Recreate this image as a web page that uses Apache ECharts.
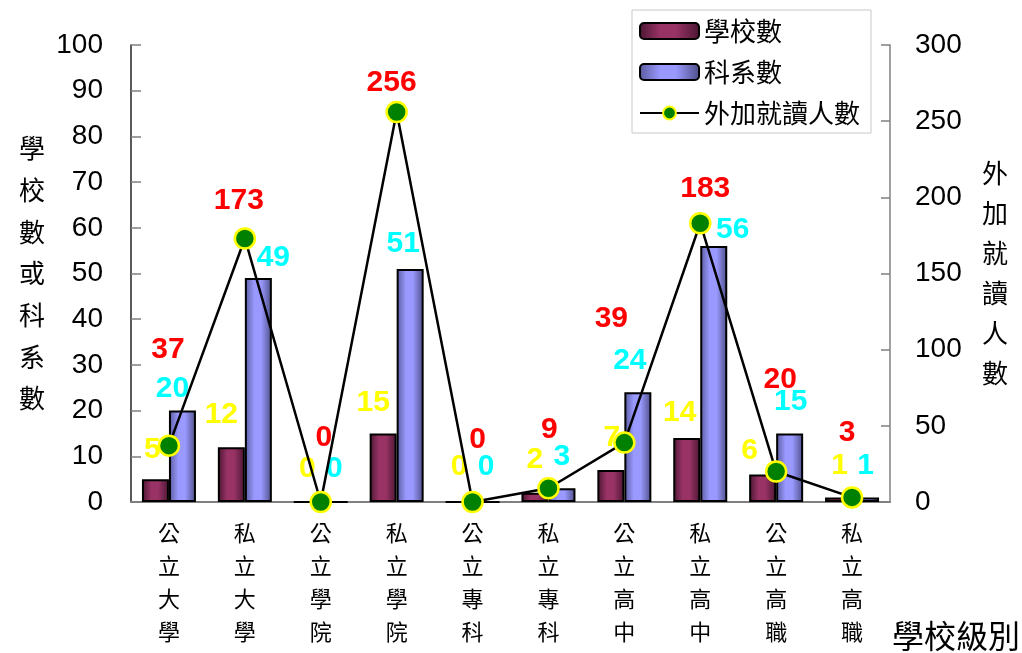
<!DOCTYPE html>
<html>
<head>
<meta charset="utf-8">
<script src="https://cdn.jsdelivr.net/npm/echarts@6/dist/echarts.min.js"></script>
<style>
html,body{margin:0;padding:0;background:#fff;}
#chart{width:1022px;height:653px;}
</style>
</head>
<body>
<div id="chart"></div>
<script>
// ---- data ----
const categories = ['公立大學','私立大學','公立學院','私立學院','公立專科','私立專科','公立高中','私立高中','公立高職','私立高職'];
const schoolCounts = [5, 12, 0, 15, 0, 2, 7, 14, 6, 1];
const deptCounts = [20, 49, 0, 51, 0, 3, 24, 56, 15, 1];
const extraStudents = [37, 173, 0, 256, 0, 9, 39, 183, 20, 3];
const leftTicks = {min: 0, max: 100, interval: 10};
const rightTicks = {min: 0, max: 300, interval: 50};
const seriesNames = ['學校數', '科系數', '外加就讀人數'];
const leftAxisName = '學校數或科系數';
const rightAxisName = '外加就讀人數';
const xAxisName = '學校級別';

// ---- label placement (style only) ----
const schoolLabelOffsets = [[-3,-29],[-10,-32],[0,-32],[-10,-31],[0,-34],[0,-33],[1,-32],[-7,-25],[-13,-24],[1,-32]];
const deptLabelOffsets = [[-10,-22],[15,-20],[0,-32],[-7,-25],[0,-34],[0,-32],[-8,-32],[19,-16],[1,-32],[0,-32]];
const extraLabelOffsets = [[-1,-85],[-6,-26],[3,-53],[-5,-18],[5,-51],[1,-47],[-13,-113],[5,-23],[4,-81],[-5,-53]];

const latin = "'Liberation Sans', Arial, 'Noto Sans CJK TC', sans-serif";
const cjk = "'Noto Sans CJK TC', 'Liberation Sans', sans-serif";

function vertical(s){ return s.split('').join('\n'); }

const valueLabel = (color) => ({
  show: true, position: 'top', distance: 0, verticalAlign: 'middle', align: 'center',
  color: color, fontSize: 30, fontWeight: 'bold', fontFamily: latin
});

const grad = (c0, c1, c2, c3) => new echarts.graphic.LinearGradient(0, 0, 1, 0, [
  {offset: 0, color: c0}, {offset: 0.35, color: c1}, {offset: 0.6, color: c2}, {offset: 1, color: c3}
]);

const chart = echarts.init(document.getElementById('chart'), null, {renderer: 'canvas'});
chart.setOption({
  animation: false,
  backgroundColor: '#ffffff',
  textStyle: {fontFamily: latin},
  title: {
    text: xAxisName, left: 892, top: 620, padding: 0,
    textStyle: {fontSize: 32, fontWeight: 'normal', fontFamily: cjk, color: '#000'}
  },
  legend: {
    orient: 'vertical', left: 632, top: 10,
    padding: [8, 11, 7, 7], itemGap: 15, itemWidth: 59, itemHeight: 16,
    borderColor: '#c8c8c8', borderWidth: 1, backgroundColor: '#fff',
    textStyle: {fontSize: 26, fontFamily: cjk, color: '#000'},
    data: seriesNames
  },
  grid: {left: 131, right: 132, top: 45, bottom: 151, containLabel: false, outerBoundsMode: 'none'},
  xAxis: {
    type: 'category', data: categories,
    axisLine: {lineStyle: {color: '#808080', width: 2}},
    axisTick: {inside: true, length: 7, lineStyle: {color: '#808080', width: 1.5}},
    axisLabel: {
      interval: 0, margin: 14, fontSize: 22, lineHeight: 33, fontFamily: cjk, color: '#000',
      formatter: (v) => vertical(v)
    }
  },
  yAxis: [
    {
      type: 'value', min: leftTicks.min, max: leftTicks.max, interval: leftTicks.interval,
      position: 'left',
      axisLine: {show: true, lineStyle: {color: '#222', width: 1.5}},
      axisTick: {show: true, inside: true, length: 10, lineStyle: {color: '#808080', width: 1.5}},
      axisLabel: {margin: 28, fontSize: 28, color: '#000', fontFamily: latin},
      splitLine: {show: false},
      name: vertical(leftAxisName), nameLocation: 'middle', nameRotate: 0, nameGap: 86,
      nameTextStyle: {fontSize: 26, lineHeight: 41.7, fontFamily: cjk, color: '#000'}
    },
    {
      type: 'value', min: rightTicks.min, max: rightTicks.max, interval: rightTicks.interval,
      position: 'right',
      axisLine: {show: true, lineStyle: {color: '#808080', width: 1.5}},
      axisTick: {show: true, inside: true, length: 9, lineStyle: {color: '#808080', width: 1.5}},
      axisLabel: {margin: 25, fontSize: 28, color: '#000', fontFamily: latin},
      splitLine: {show: false},
      name: vertical(rightAxisName), nameLocation: 'middle', nameRotate: 0, nameGap: 92,
      nameTextStyle: {fontSize: 26, lineHeight: 40, fontFamily: cjk, color: '#000'}
    }
  ],
  series: [
    {
      name: seriesNames[0], type: 'bar', yAxisIndex: 0, barWidth: 27, barGap: '0%',
      itemStyle: {color: grad('#4a1631', '#993366', '#993366', '#4a1631'), borderColor: '#000', borderWidth: 2},
      label: valueLabel('#ffff00'),
      data: schoolCounts.map((v, i) => ({value: v, label: {offset: schoolLabelOffsets[i]}}))
    },
    {
      name: seriesNames[1], type: 'bar', yAxisIndex: 0, barWidth: 27, barGap: '0%',
      itemStyle: {color: grad('#5a5a9c', '#9999ff', '#9999ff', '#4d4d85'), borderColor: '#000', borderWidth: 2},
      label: valueLabel('#00ffff'),
      data: deptCounts.map((v, i) => ({value: v, label: {offset: deptLabelOffsets[i]}}))
    },
    {
      name: seriesNames[2], type: 'line', yAxisIndex: 1,
      symbol: 'circle', symbolSize: 20,
      lineStyle: {color: '#000', width: 2.5},
      itemStyle: {color: '#008000', borderColor: '#ffff00', borderWidth: 2.5},
      label: valueLabel('#ff0000'),
      data: extraStudents.map((v, i) => ({value: v, label: {offset: extraLabelOffsets[i]}}))
    }
  ]
});
</script>
</body>
</html>
